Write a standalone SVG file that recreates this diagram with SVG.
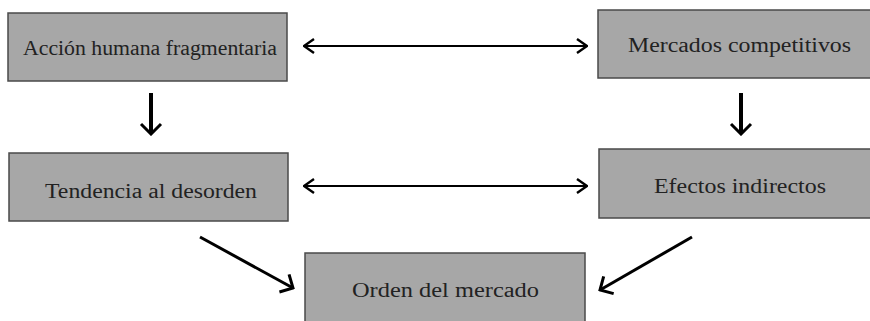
<svg xmlns="http://www.w3.org/2000/svg" width="870" height="321" viewBox="0 0 870 321">
<defs>
<style>
.box{fill:#a7a7a7;stroke:#4a4a4a;stroke-width:1.5}
.lbl{font-family:"Liberation Serif","DejaVu Serif",serif;font-size:20px;fill:#222;text-anchor:middle}
.thin{stroke:#000;stroke-width:2.2;fill:none}
.thick{stroke:#000;stroke-width:4;fill:none}
</style>
<marker id="oh" viewBox="0 0 12 16" refX="11" refY="8" markerWidth="12" markerHeight="16" markerUnits="userSpaceOnUse" orient="auto-start-reverse">
<path d="M1,1 L11,8 L1,15" fill="none" stroke="#000" stroke-width="2.4"/>
</marker>
<marker id="oh2" viewBox="0 0 24 24" refX="22" refY="12" markerWidth="24" markerHeight="24" markerUnits="userSpaceOnUse" orient="auto">
<path d="M12,2 L22,12 L12,22" fill="none" stroke="#000" stroke-width="3"/>
</marker>
</defs>
<rect width="870" height="321" fill="#fff"/>
<g id="n1"><rect class="box" x="8" y="13" width="279" height="68"/><text class="lbl" x="150" y="55" textLength="254" lengthAdjust="spacingAndGlyphs">Acción humana fragmentaria</text></g>
<g id="n2"><rect class="box" x="598" y="10" width="276" height="68"/><text class="lbl" x="739.5" y="52" textLength="223" lengthAdjust="spacingAndGlyphs">Mercados competitivos</text></g>
<g id="n3"><rect class="box" x="9" y="153" width="279" height="68"/><text class="lbl" x="151" y="198" textLength="212" lengthAdjust="spacingAndGlyphs">Tendencia al desorden</text></g>
<g id="n4"><rect class="box" x="599" y="149" width="275" height="69"/><text class="lbl" x="740" y="193" textLength="172" lengthAdjust="spacingAndGlyphs">Efectos indirectos</text></g>
<g id="n5"><rect class="box" x="305" y="253" width="280" height="72"/><text class="lbl" x="445.5" y="297" textLength="187" lengthAdjust="spacingAndGlyphs">Orden del mercado</text></g>
<g id="connectors">
<line class="thin" x1="304" y1="46" x2="587" y2="46" marker-start="url(#oh)" marker-end="url(#oh)"/>
<line class="thin" x1="304" y1="186" x2="587" y2="186" marker-start="url(#oh)" marker-end="url(#oh)"/>
<line class="thick" x1="151" y1="93" x2="151" y2="134" marker-end="url(#oh2)"/>
<line class="thick" x1="741" y1="93" x2="741" y2="134" marker-end="url(#oh2)"/>
<line class="thin" style="stroke-width:3" x1="200" y1="237" x2="293" y2="288" marker-end="url(#oh2)"/>
<line class="thin" style="stroke-width:3" x1="692" y1="237" x2="600" y2="290" marker-end="url(#oh2)"/>
</g>
</svg>
